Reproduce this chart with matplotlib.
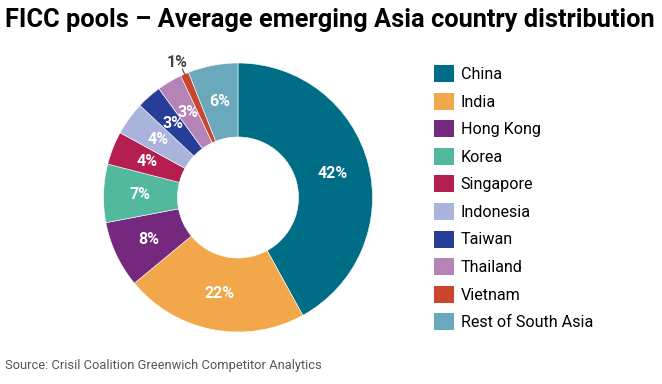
import numpy as np
import matplotlib.pyplot as plt
from matplotlib.patches import Patch

countries = ["China", "India", "Hong Kong", "Korea", "Singapore", "Indonesia",
             "Taiwan", "Thailand", "Vietnam", "Rest of South Asia"]
shares = [42, 22, 8, 7, 4, 4, 3, 3, 1, 6]
colors = ["#006d87", "#f2a74b", "#74297f", "#52b99e", "#b51e50", "#a9b3dc",
          "#263e97", "#b384b5", "#c9452b", "#6aa9bc"]

plt.rcParams["font.family"] = ["Roboto", "DejaVu Sans"]

W, H = 662, 384
fig = plt.figure(figsize=(W / 100, H / 100), dpi=100)

# donut placed by pixel centre / radius
cx, cy, r = 238, 197.5, 134.5
ax = fig.add_axes([(cx - r) / W, (H - cy - r) / H, 2 * r / W, 2 * r / H])
wedges, _, pcts = ax.pie(shares, colors=colors, startangle=90, counterclock=False,
                         radius=1, autopct="%d%%", pctdistance=0.73,
                         wedgeprops=dict(width=0.55, edgecolor="white", linewidth=0.4),
                         textprops=dict(color="white", fontsize=11.5, fontweight="bold"))
ax.set_xlim(-1, 1)
ax.set_ylim(-1, 1)
ax.set_aspect("equal")
ax.axis("off")

# small slice gets an outside label with a leader
small = countries.index("Vietnam")
w = wedges[small]
ang = np.deg2rad((w.theta1 + w.theta2) / 2)
pcts[small].set_position((1.14 * np.cos(ang), 1.09 * np.sin(ang)))
pcts[small].set_color("#444444")
pcts[small].set_clip_on(False)
ax.plot([1.0 * np.cos(ang), 1.04 * np.cos(ang)], [1.0 * np.sin(ang), 1.04 * np.sin(ang)],
        color="#444444", lw=0.8, clip_on=False)

fig.text(5 / W, 1 - 20 / H, "FICC pools \u2013 Average emerging Asia country distribution",
         fontsize=18.3, fontweight="bold", color="black", va="center", ha="left")
fig.text(5 / W, 1 - 366 / H, "Source: Crisil Coalition Greenwich Competitor Analytics",
         fontsize=9.3, color="#555555", va="center", ha="left")

handles = [Patch(facecolor=c, edgecolor="none") for c in colors]
fig.legend(handles, countries, loc="upper left", bbox_to_anchor=(434 / W, 1 - 65 / H),
           frameon=False, fontsize=11.6, handlelength=1.25, handleheight=1.25,
           handletextpad=0.4, labelspacing=0.655, borderaxespad=0, borderpad=0)

fig.savefig("out.png", dpi=100)
